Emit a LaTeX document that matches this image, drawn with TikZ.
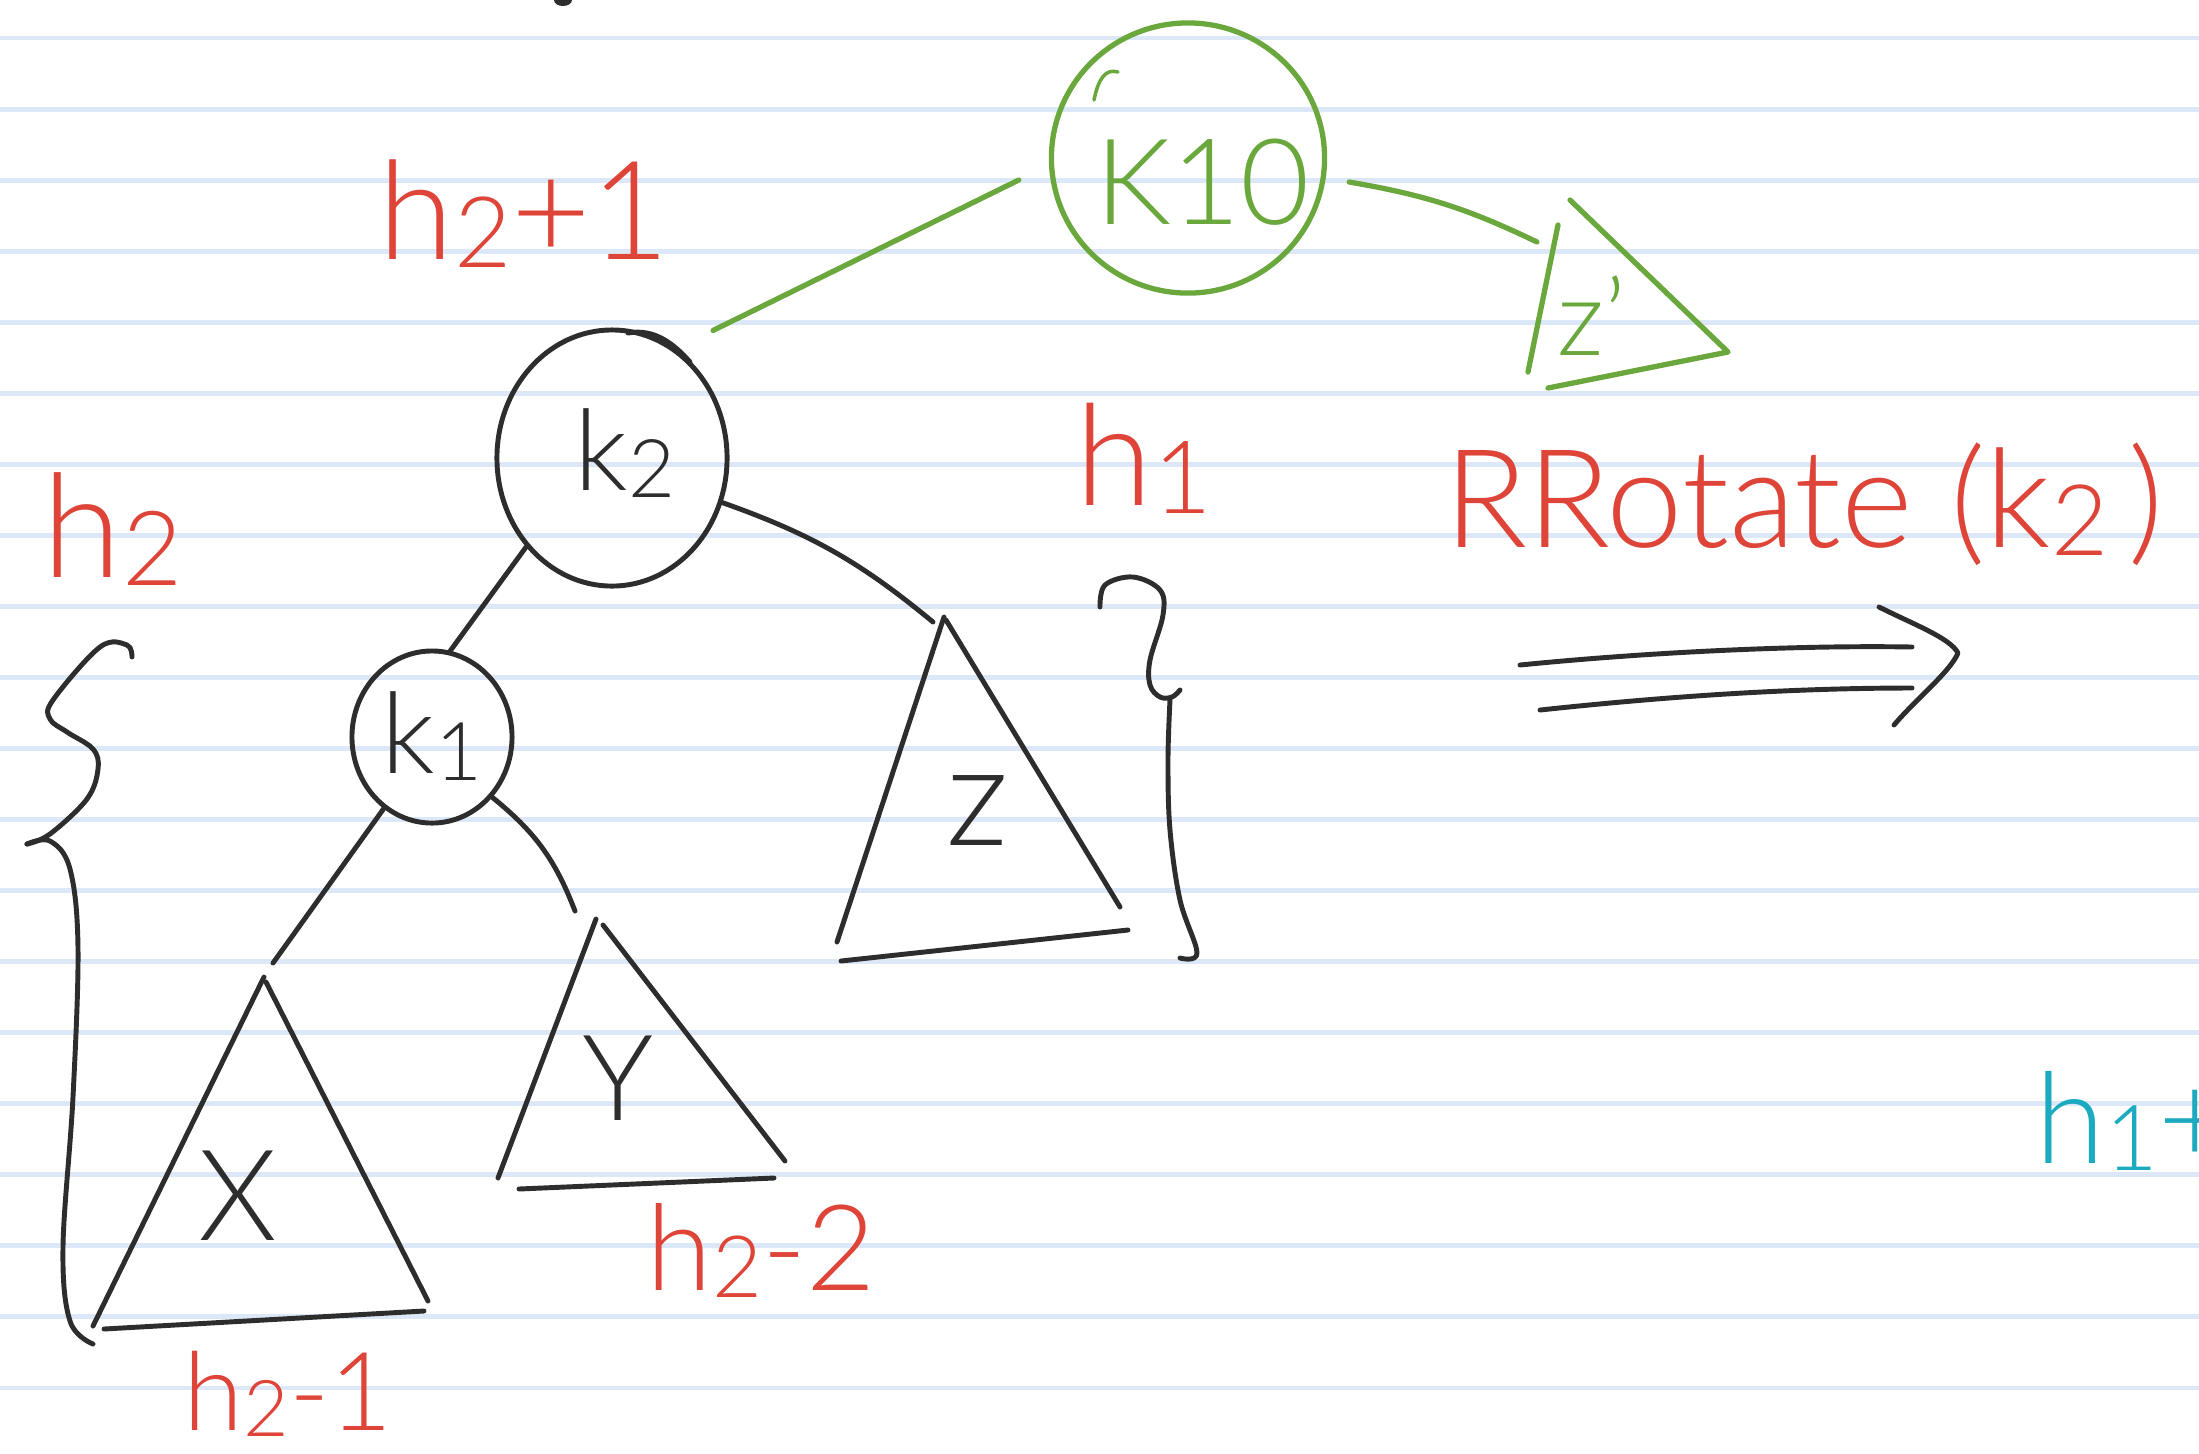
\documentclass[tikz,border=0pt]{standalone}
\usepackage{fontspec}
\IfFontExistsTF{Lato Light}{\setmainfont{Lato Light}}{%
  \IfFontExistsTF{Open Sans Light}{\setmainfont{Open Sans Light}}{\setmainfont{Open Sans}}}
\usetikzlibrary{shapes.geometric}
\definecolor{rulecol}{RGB}{220,232,247}
\definecolor{inkgreen}{RGB}{106,168,62}
\definecolor{inkred}{RGB}{222,68,56}
\definecolor{inkcyan}{RGB}{28,170,192}
\definecolor{inkblack}{RGB}{45,45,45}
\newcommand{\lowsub}[1]{\raisebox{-0.06em}{\scalebox{0.72}{#1}}}
\begin{document}
\begin{tikzpicture}[x=0.01cm,y=-0.01cm,
  rule/.style={rulecol, line width=1.4pt},
  ink/.style={inkblack, line width=1.4pt, line cap=round, line join=round},
  inkg/.style={inkgreen, line width=1.5pt, line cap=round, line join=round},
  keynode/.style={ellipse, draw=inkblack, line width=1.4pt, inner sep=0pt},
  lbl/.style={inner sep=0pt, font=\fontsize{34}{34}\selectfont},
  redlbl/.style={inner sep=0pt, anchor=base west, text=inkred, font=\fontsize{39}{39}\selectfont},
]
\fill[white] (0,0) rectangle (2199,1453);
\useasboundingbox (0,0) rectangle (2199,1453);
\foreach \k in {0,...,19} \draw[rule] (0,{38+71.05*\k}) -- (2199,{38+71.05*\k});

% small mark at top edge
\fill[inkblack] (563,0) ellipse (9 and 6);

% ---------- green part ----------
\node[keynode, draw=inkgreen, line width=1.5pt, minimum width=2.73cm, minimum height=2.7cm] (K10) at (1188,158) {};
\node[lbl, text=inkgreen] (K10lbl) at (1203,182) {K10};
\draw[inkg, line width=1pt] (1094,100) .. controls (1098,80) and (1105,68) .. (1118,72);

\coordinate (zpA) at (1570,200);
\coordinate (zpR) at (1728,352);
\coordinate (zpL1) at (1558,225);
\coordinate (zpL2) at (1528,372);
\coordinate (zpB) at (1548,388);
\coordinate (zpIn) at (1537,242);
\draw[inkg] (zpL1) -- (zpL2);
\draw[inkg] (zpA) -- (zpR) -- (zpB);
\node[lbl, text=inkgreen, font=\fontsize{30}{30}\selectfont] (zplbl) at (1592,316) {z'};

% ---------- black tree ----------
\node[keynode, minimum width=2.30cm, minimum height=2.56cm] (k2) at (612,458) {};
\node[lbl, text=inkblack, font=\fontsize{32}{32}\selectfont] (k2lbl) at (625,453) {k\lowsub{2}};
\draw[ink] (628,333) .. controls (655,328) and (675,345) .. (690,362);
\node[keynode, minimum width=1.60cm, minimum height=1.72cm] (k1) at (432,737) {};
\node[lbl, text=inkblack, font=\fontsize{32}{32}\selectfont] (k1lbl) at (432,736) {k\lowsub{1}};

\draw[inkg] ([shift={(-30,22)}]K10.west) -- ([shift={(101,3)}]k2.north);
\draw[inkg] ([shift={(22,24)}]K10.east) to[bend left=8] (zpIn);

% triangle X
\coordinate (XA) at (264,977);
\coordinate (XL) at (93,1326);
\coordinate (XR) at (428,1301);
\coordinate (XB1) at (104,1329);
\coordinate (XB2) at (424,1311);
\coordinate (Xin) at (273,963);
\draw[ink] (XA) -- (XL);
\draw[ink] ([shift={(2,5)}]XA) -- (XR);
\draw[ink] (XB1) -- (XB2);
\node[lbl, text=inkblack, font=\fontsize{36}{36}\selectfont] (Xlbl) at (238,1196) {X};

% triangle Y
\coordinate (YA) at (596,919);
\coordinate (YL) at (498,1178);
\coordinate (YR) at (785,1161);
\coordinate (YB1) at (519,1189);
\coordinate (YB2) at (774,1178);
\coordinate (Yin) at (575,911);
\draw[ink] (YA) -- (YL);
\draw[ink] ([shift={(7,6)}]YA) -- (YR);
\draw[ink] (YB1) -- (YB2);
\node[lbl, text=inkblack, font=\fontsize{34}{34}\selectfont] (Ylbl) at (618,1078) {Y};

% triangle Z
\coordinate (ZA) at (944,617);
\coordinate (ZL) at (837,942);
\coordinate (ZR) at (1120,907);
\coordinate (ZB1) at (841,961);
\coordinate (ZB2) at (1128,930);
\coordinate (Zin) at (933,622);
\draw[ink] (ZA) -- (ZL);
\draw[ink] ([shift={(2,3)}]ZA) -- (ZR);
\draw[ink] (ZB1) -- (ZB2);
\node[lbl, text=inkblack, font=\fontsize{40}{40}\selectfont] (Zlbl) at (978,810) {z};

% tree edges
\draw[ink] (k2.226) -- (k1.78);
\draw[ink] (k2.338) to[bend left=10] (Zin);
\draw[ink] (k1.236) -- (Xin);
\draw[ink] (k1.315) to[bend left=15] (Yin);

% braces
\draw[ink] plot[smooth, tension=0.6] coordinates {(132,657) (127,645) (100,647) (53,700) (50,719) (67,732) (93,749) (98,769) (87,799) (50,834) (27,844)};
\draw[ink] plot[smooth, tension=0.6] coordinates {(27,844) (50,841) (70,869) (78,948) (73,1097) (63,1247) (70,1321) (93,1344)};
\draw[ink] plot[smooth, tension=0.6] coordinates {(1100,607) (1105,585) (1133,577) (1160,590) (1163,615) (1150,660) (1150,685) (1160,697) (1172,697) (1180,690)};
\draw[ink] plot[smooth, tension=0.6] coordinates {(1170,700) (1168,760) (1170,830) (1180,900) (1197,953) (1180,958)};

% double arrow
\draw[ink] (1520,665) .. controls (1650,652) and (1800,645) .. (1912,647);
\draw[ink] (1540,710) .. controls (1680,695) and (1800,688) .. (1912,688);
\draw[ink] (1879,607) .. controls (1915,625) and (1950,638) .. (1958,653) .. controls (1950,672) and (1915,700) .. (1894,725);

% ---------- red labels ----------
\node[redlbl] (lh2p1) at (378,259) {h\lowsub{2}+1};
\node[redlbl, font=\fontsize{40}{40}\selectfont] (lh1) at (1075,505) {h\lowsub{1}};
\node[redlbl] (lrot) at (1444,547) {RRotate (k\lowsub{2}\hspace{0.15em})};
\node[redlbl, font=\fontsize{41}{41}\selectfont] (lh2) at (42,577) {h\lowsub{2}};
\node[redlbl, font=\fontsize{34}{34}\selectfont] (lh2m2) at (646,1290) {h\lowsub{2}-2};
\node[redlbl, font=\fontsize{31}{31}\selectfont] (lh2m1) at (183,1430) {h\lowsub{2}-1};

% cyan label (cut off at the right edge, as in the original)
\node[inner sep=0pt, text=inkcyan, font=\fontsize{36}{36}\selectfont, anchor=base west] (lh1p) at (2035,1163) {h\lowsub{1}+};
\end{tikzpicture}
\end{document}
